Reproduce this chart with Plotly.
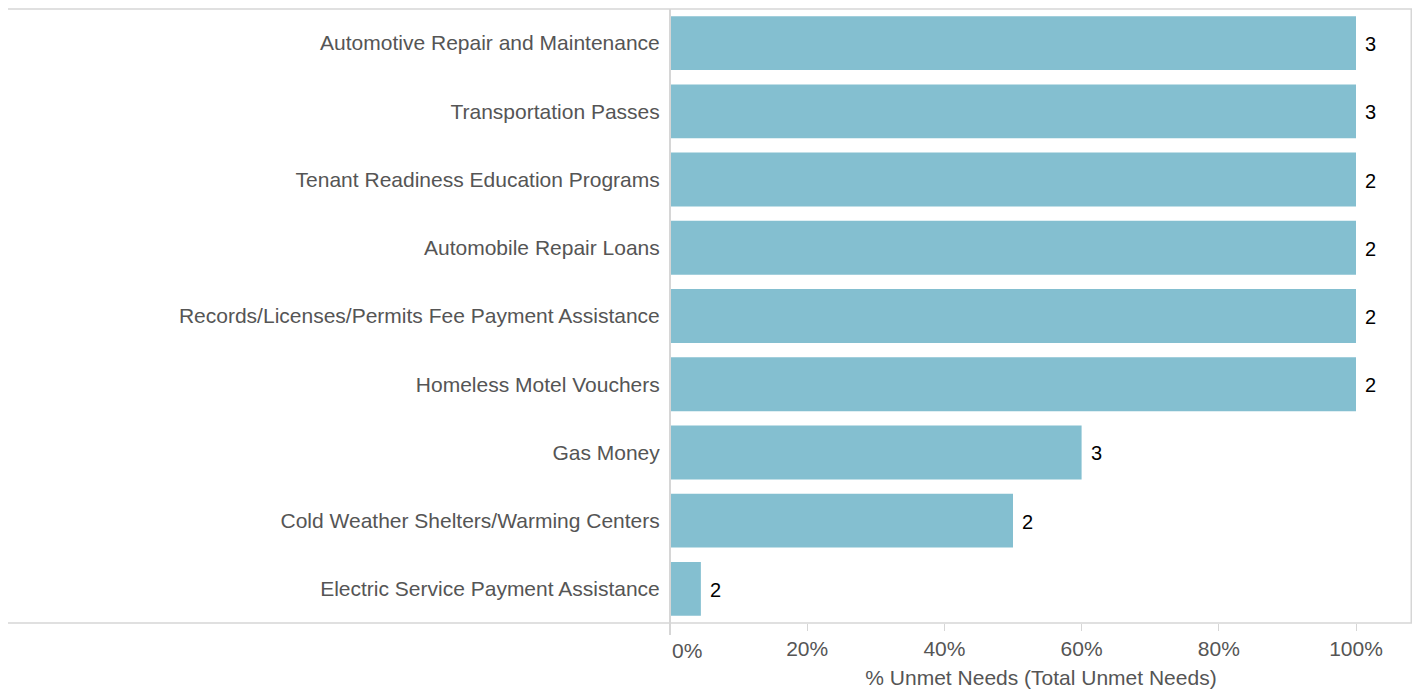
import plotly.graph_objects as go

categories = [
    "Automotive Repair and Maintenance",
    "Transportation Passes",
    "Tenant Readiness Education Programs",
    "Automobile Repair Loans",
    "Records/Licenses/Permits Fee Payment Assistance",
    "Homeless Motel Vouchers",
    "Gas Money",
    "Cold Weather Shelters/Warming Centers",
    "Electric Service Payment Assistance",
]
pct_unmet = [1.0, 1.0, 1.0, 1.0, 1.0, 1.0, 0.60, 0.50, 0.045]
total_unmet = [3, 3, 2, 2, 2, 2, 3, 2, 2]
tick_vals = [0, 0.2, 0.4, 0.6, 0.8, 1.0]
tick_text = ["0%", "20%", "40%", "60%", "80%", "100%"]

FONT = "Liberation Sans, Arial, Helvetica, sans-serif"
GRAY = "#555555"
LINE = "#d6d6d6"
FS = 21

fig = go.Figure()
fig.add_trace(go.Bar(
    x=pct_unmet, y=categories, orientation="h",
    marker=dict(color="#84bfd0", line=dict(width=0)),
    hoverinfo="skip",
))

# value labels
for c, v, n in zip(categories, pct_unmet, total_unmet):
    fig.add_annotation(x=v, y=c, text=str(n), showarrow=False,
                       xanchor="left", xshift=7, yshift=-1,
                       font=dict(family=FONT, size=20, color="#000000"))

# 0% label (left aligned like the reference)
fig.add_annotation(x=tick_vals[0], y=0, yref="paper", text=tick_text[0],
                   showarrow=False, xanchor="left", yanchor="top",
                   xshift=0, yshift=-14,
                   font=dict(family=FONT, size=FS, color=GRAY))

axis_text = [""] + tick_text[1:]

PLOT_W = 742
fig.update_layout(
    width=1413, height=681,
    margin=dict(l=662, r=1413 - 662 - PLOT_W, t=1, b=66, autoexpand=False),
    paper_bgcolor="white", plot_bgcolor="white",
    bargap=0.21,
    showlegend=False,
    font=dict(family=FONT, size=FS, color=GRAY),
    xaxis=dict(
        range=[0, PLOT_W / 686], tickvals=tick_vals, ticktext=axis_text,
        showgrid=False, zeroline=False, showline=False,
        ticks="outside", ticklen=7, tickcolor=LINE, tickwidth=1,
        tickfont=dict(family=FONT, size=FS, color=GRAY),
        title=dict(text="% Unmet Needs (Total Unmet Needs)",
                   font=dict(family=FONT, size=FS, color=GRAY), standoff=12),
        automargin=False,
        fixedrange=True,
    ),
    yaxis=dict(
        autorange="reversed", showgrid=False, zeroline=False, showline=False,
        ticks="outside", ticklen=5, tickcolor="rgba(0,0,0,0)",
        tickfont=dict(family=FONT, size=FS, color=GRAY),
        automargin=False,
        fixedrange=True,
    ),
)

x_left = -(670 - 8) / PLOT_W
shapes = [
    dict(type="line", xref="paper", yref="paper", x0=x_left, x1=1, y0=1, y1=1,
         line=dict(color=LINE, width=1.5)),
    dict(type="line", xref="paper", yref="paper", x0=x_left, x1=1, y0=0, y1=0,
         line=dict(color=LINE, width=1.5)),
    dict(type="line", xref="paper", yref="paper", x0=0.999, x1=0.999, y0=0, y1=1,
         line=dict(color=LINE, width=1.5)),
    dict(type="line", xref="paper", yref="paper", x0=0, x1=0, y0=-12 / 614, y1=1,
         line=dict(color=LINE, width=2)),
]
fig.update_layout(shapes=shapes)

fig.write_html("out.html")
